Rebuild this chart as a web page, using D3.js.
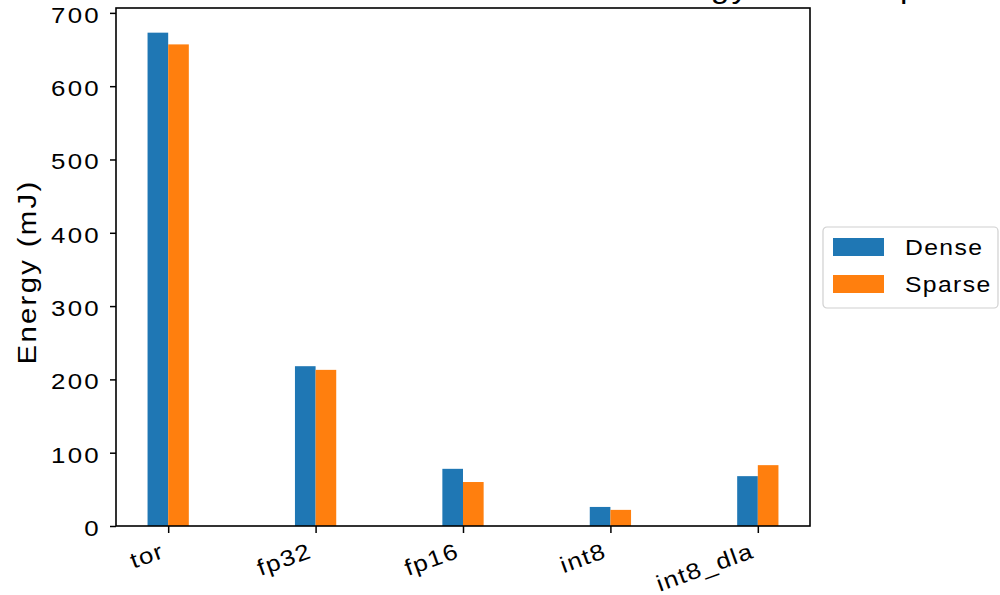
<!DOCTYPE html>
<html>
<head>
<meta charset="utf-8">
<script src="https://cdn.jsdelivr.net/npm/d3@7"></script>
<style>
  html, body { margin: 0; padding: 0; background: #fff; }
  svg { display: block; }
  text { font-family: "Liberation Sans", Arial, Helvetica, sans-serif; fill: #000; }
</style>
</head>
<body>
<svg id="chart" width="1000" height="595"></svg>
<script>
// Energy per precision mode, dense vs sparse models (mJ)
const categories = ["tor", "fp32", "fp16", "int8", "int8_dla"];
const denseEnergy = [673, 218, 78, 26, 68];
const sparseEnergy = [657, 213, 60, 22, 83];
const seriesNames = ["Dense", "Sparse"];
const yTickValues = [0, 100, 200, 300, 400, 500, 600, 700];
const titleText = "Energy Consumption";

const W = 1000, H = 595;
const plot = { left: 116, right: 810, top: 8, bottom: 526 };
const colors = ["#1f77b4", "#ff7f0e"];
const barWidth = 0.14;        // in category units
const stretch = 1.15;         // horizontal glyph stretch of the typeface
const svg = d3.select("#chart");

// x: category index on a continuous scale (with matplotlib-like margins)
const xPad = barWidth + 0.05 * (categories.length - 1 + 2 * barWidth);
const x = d3.scaleLinear()
  .domain([-xPad, categories.length - 1 + xPad])
  .range([plot.left, plot.right]);

const yMax = d3.max(denseEnergy.concat(sparseEnergy)) * 1.05;
const y = d3.scaleLinear().domain([0, yMax]).range([plot.bottom, plot.top]);

// bars
const series = [denseEnergy, sparseEnergy];
series.forEach((vals, s) => {
  svg.append("g").selectAll("rect")
    .data(vals)
    .join("rect")
    .attr("x", (d, i) => x(i + (s === 0 ? -barWidth : 0)))
    .attr("width", (d, i) => x(i + barWidth) - x(i))
    .attr("y", d => y(d))
    .attr("height", d => y(0) - y(d))
    .attr("fill", colors[s]);
});

// frame
svg.append("rect")
  .attr("x", plot.left).attr("y", plot.top)
  .attr("width", plot.right - plot.left)
  .attr("height", plot.bottom - plot.top)
  .attr("fill", "none").attr("stroke", "#000").attr("stroke-width", 1.6);

// y axis
const yAxis = svg.append("g")
  .attr("transform", `translate(${plot.left},0)`)
  .call(d3.axisLeft(y).tickValues(yTickValues).tickSize(6).tickSizeOuter(0).tickPadding(0));
yAxis.select(".domain").remove();
yAxis.selectAll(".tick line").attr("stroke", "#000").attr("stroke-width", 1.5);
yAxis.selectAll(".tick text").remove();
yAxis.selectAll(".tick").append("text")
  .attr("transform", `translate(-15,9.5) scale(${stretch},1)`)
  .attr("text-anchor", "end")
  .attr("font-size", 22.5)
  .attr("letter-spacing", "2px")
  .text(d => d);

// x axis
const xAxis = svg.append("g")
  .attr("transform", `translate(0,${plot.bottom})`)
  .call(d3.axisBottom(x).tickValues(d3.range(categories.length)).tickSize(7).tickSizeOuter(0));
xAxis.select(".domain").remove();
xAxis.selectAll(".tick line").attr("stroke", "#000").attr("stroke-width", 1.5);
xAxis.selectAll(".tick text").remove();
xAxis.selectAll(".tick").append("text")
  .attr("transform", `translate(-3,31) rotate(-20) scale(${stretch},1)`)
  .attr("text-anchor", "end")
  .attr("font-size", 22.5)
  .attr("letter-spacing", "1.2px")
  .text(d => categories[d]);

// y label
svg.append("text")
  .attr("transform", `translate(36,${(plot.top + plot.bottom) / 2 + 5}) rotate(-90) scale(${stretch},1)`)
  .attr("text-anchor", "middle")
  .attr("font-size", 25.5)
  .attr("letter-spacing", "2px")
  .text("Energy (mJ)");

// title (runs above the top edge of the figure)
svg.append("text")
  .attr("transform", `translate(631,-2) scale(${stretch},1)`)
  .attr("font-size", 29)
  .attr("letter-spacing", "2px")
  .text(titleText);

// legend
const legend = svg.append("g").attr("transform", "translate(823,227)");
legend.append("rect")
  .attr("width", 175).attr("height", 81)
  .attr("rx", 4).attr("ry", 4)
  .attr("fill", "#fff").attr("stroke", "#d0d0d0").attr("stroke-width", 1.2);
seriesNames.forEach((name, s) => {
  const row = legend.append("g").attr("transform", `translate(0,${11 + s * 37})`);
  row.append("rect")
    .attr("x", 10).attr("width", 51).attr("height", 18)
    .attr("fill", colors[s]);
  row.append("text")
    .attr("transform", `translate(82,16.5) scale(${stretch},1)`)
    .attr("font-size", 21.5)
    .attr("letter-spacing", "1.2px")
    .text(name);
});
</script>
</body>
</html>
